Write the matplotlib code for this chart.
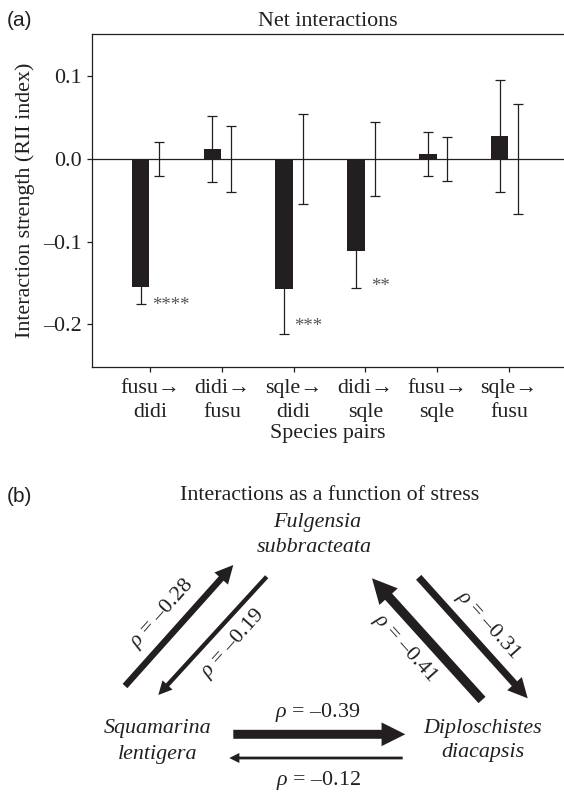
import numpy as np
import matplotlib
matplotlib.use("Agg")
import matplotlib.pyplot as plt
from matplotlib.patches import FancyArrow

plt.rcParams["font.family"] = ["Liberation Serif", "DejaVu Serif"]
plt.rcParams["mathtext.fontset"] = "custom"
plt.rcParams["mathtext.rm"] = "Liberation Serif"
plt.rcParams["mathtext.it"] = "Liberation Serif:italic"

INK = "#231f20"
FS = 15.8

# panel (a) data
pairs = ["fusu\u2192\ndidi", "didi\u2192\nfusu", "sqle\u2192\ndidi",
         "didi\u2192\nsqle", "fusu\u2192\nsqle", "sqle\u2192\nfusu"]
rii_mean = [-0.155, 0.0125, -0.157, -0.111, 0.006, 0.028]
rii_err = [0.020, 0.040, 0.054, 0.045, 0.027, 0.068]
null_mean = [0.0, 0.0, 0.0, 0.0, 0.0, 0.0]
null_err = [0.020, 0.040, 0.054, 0.045, 0.027, 0.067]
stars = ["****", "", "***", "**", "", ""]
yticks = [-0.2, -0.1, 0.0, 0.1]
ytick_labels = ["\u20130.2", "\u20130.1", "0.0", "0.1"]

# panel (b) data: Spearman rho of each interaction with stress
rho = [-0.28, -0.19, -0.41, -0.31, -0.39, -0.12]

W, H = 564, 792
fig = plt.figure(figsize=(W / 100, H / 100), dpi=100)

# ---------- (a) ----------
ax = fig.add_axes([92 / W, 1 - 366.7 / H, 1 - 92 / W, (366.7 - 34) / H])
x = np.arange(len(pairs))
off = 0.13
ax.bar(x - off, rii_mean, width=0.245, color=INK, zorder=2)
ax.errorbar(x - off, rii_mean, yerr=rii_err, fmt="none", ecolor=INK,
            elinewidth=0.9, capsize=3.8, capthick=0.9, zorder=3)
ax.errorbar(x + off, null_mean, yerr=null_err, fmt="none", ecolor=INK,
            elinewidth=0.9, capsize=3.8, capthick=0.9, zorder=3)
ax.axhline(0, color=INK, lw=0.9, zorder=1)

# significance stars next to the lower error caps
star_dx = [0.03, 0, 0.01, 0.08, 0, 0]
star_dy = [0.006, 0, 0.016, 0.009, 0, 0]
for i, s in enumerate(stars):
    if s:
        ylow = rii_mean[i] - rii_err[i]
        ax.text(i + star_dx[i], ylow + star_dy[i] - 0.013, s, color="#555555",
                fontsize=13.5, ha="left", va="baseline")

ax.set_xlim(-0.808, 5.766)
ax.set_ylim(-0.251, 0.151)
ax.set_xticks(x)
ax.set_xticklabels(pairs, fontsize=FS, linespacing=1.36, color=INK)
ax.set_yticks(yticks)
ax.set_yticklabels(ytick_labels, fontsize=FS, color=INK)
ax.tick_params(length=3.6, width=0.9, pad=3.5, colors=INK)
ax.tick_params(axis="x", pad=5.5)
ax.spines["right"].set_visible(False)
for sp in ["left", "bottom", "top"]:
    ax.spines[sp].set_linewidth(0.9)
    ax.spines[sp].set_color(INK)
ax.set_title("Net interactions", fontsize=FS, pad=5.8, color=INK)
ax.set_xlabel("Species pairs", fontsize=FS, labelpad=1.2, color=INK)
fig.text(25 / W, 1 - 200 / H, "Interaction strength (RII index)", rotation=90,
         ha="center", va="center", fontsize=FS, color=INK)
fig.text(7 / W, 1 - 21 / H, "(a)", family="Liberation Sans", fontsize=15,
         ha="left", va="center", color=INK)

# ---------- (b) ----------
axb = fig.add_axes([0, 0, 1, 1], zorder=-1)
axb.set_xlim(0, W)
axb.set_ylim(H, 0)
axb.axis("off")

axb.text(7, 497, "(b)", family="Liberation Sans", fontsize=15,
         ha="left", va="center", color=INK)
axb.text(330, 496, "Interactions as a function of stress", fontsize=FS,
         ha="center", va="center", color=INK)
axb.text(317, 522.5, "Fulgensia", style="italic", fontsize=FS,
         ha="center", va="center", color=INK)
axb.text(314, 548, "subbracteata", style="italic", fontsize=FS,
         ha="center", va="center", color=INK)
axb.text(158, 728, "Squamarina", style="italic", fontsize=FS,
         ha="center", va="center", color=INK)
axb.text(158, 754, "lentigera", style="italic", fontsize=FS,
         ha="center", va="center", color=INK)
axb.text(483, 728, "Diploschistes", style="italic", fontsize=FS,
         ha="center", va="center", color=INK)
axb.text(483, 752, "diacapsis", style="italic", fontsize=FS,
         ha="center", va="center", color=INK)

# arrow layout (tail, tip) in pixel space, label offset and rotation
arrow_tail = [(125, 686), (266.7, 576.7), (482, 700), (418.7, 577.3),
              (233.3, 734.3), (402.7, 758)]
arrow_tip = [(233.3, 565), (158.3, 695), (372, 578.3), (527.7, 698.3),
             (405.3, 734.3), (229.3, 758)]
label_pos = [(162, 614), (233, 644), (405, 648), (488, 625),
             (318, 712), (318, 780)]
label_rot = [48.2, 48.2, -48, -48, 0, 0]

for r, (tx, ty), (hx, hy), (lx, ly), rot in zip(rho, arrow_tail, arrow_tip,
                                                 label_pos, label_rot):
    w = 23 * abs(r)
    hw = 2.2 * w + 4
    axb.add_patch(FancyArrow(tx, ty, hx - tx, hy - ty, width=w,
                             head_width=hw, head_length=hw,
                             length_includes_head=True, color=INK, lw=0))
    axb.text(lx, ly, r"$\rho$ = " + "\u2013%.2f" % abs(r), fontsize=FS,
             rotation=rot, rotation_mode="anchor", ha="center", va="center",
             color=INK)

fig.savefig("out.png", dpi=100)
